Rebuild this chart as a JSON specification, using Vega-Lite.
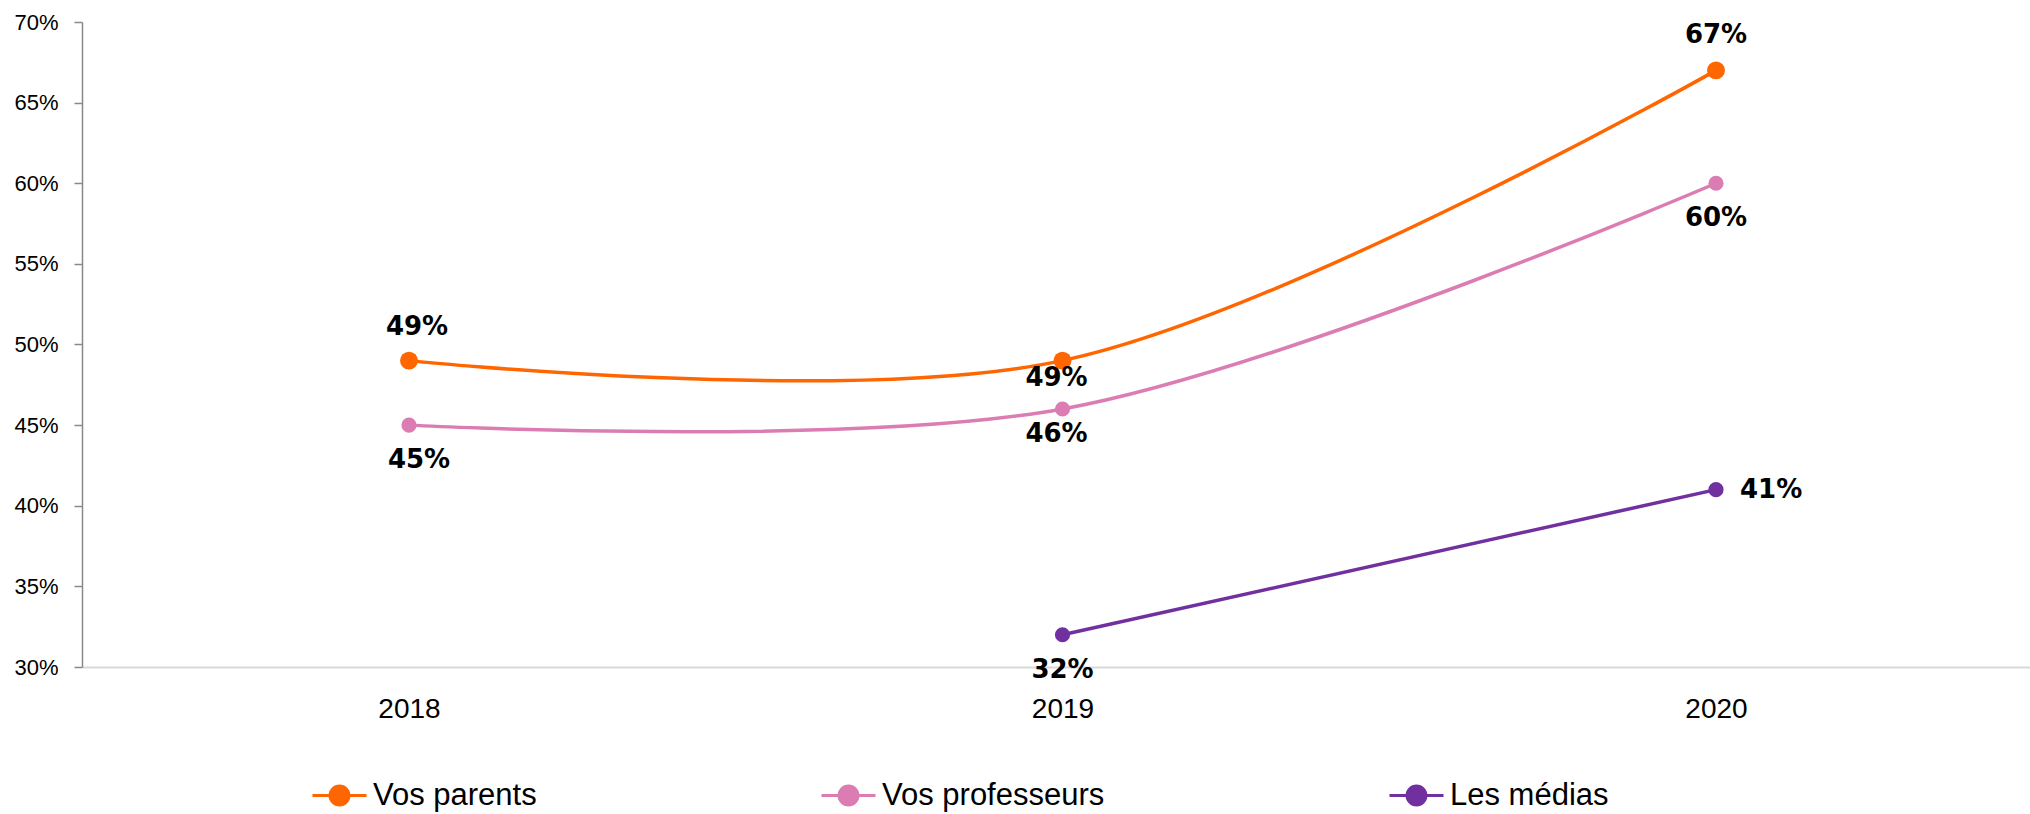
{
  "$schema": "https://vega.github.io/schema/vega-lite/v6.json",
  "width": 1948,
  "height": 645,
  "autosize": {"type": "none"},
  "padding": {"left": 82, "top": 22, "right": 0, "bottom": 147},
  "background": "white",
  "config": {
    "view": {"stroke": null},
    "font": "Liberation Sans"
  },
  "data": {
    "values": [
      {"serie": "Vos parents", "annee": "2018", "valeur": 0.49},
      {"serie": "Vos parents", "annee": "2019", "valeur": 0.49},
      {"serie": "Vos parents", "annee": "2020", "valeur": 0.67},
      {"serie": "Vos professeurs", "annee": "2018", "valeur": 0.45},
      {"serie": "Vos professeurs", "annee": "2019", "valeur": 0.46},
      {"serie": "Vos professeurs", "annee": "2020", "valeur": 0.60},
      {"serie": "Les médias", "annee": "2019", "valeur": 0.32},
      {"serie": "Les médias", "annee": "2020", "valeur": 0.41}
    ]
  },
  "encoding": {
    "x": {
      "field": "annee", "type": "ordinal",
      "scale": {"type": "point", "range": [0.25, 1960.75], "padding": 0.5},
      "axis": {
        "title": null, "labelAngle": 0, "ticks": false,
        "domainColor": "#d9d9d9", "domainWidth": 2,
        "labelFontSize": 28, "labelColor": "#000000", "labelPadding": 28,
        "labelFont": "Liberation Sans"
      }
    },
    "y": {
      "field": "valeur", "type": "quantitative",
      "scale": {"domain": [0.3, 0.7], "nice": false, "zero": false},
      "axis": {
        "title": null, "grid": false, "format": ".0%",
        "values": [0.3, 0.35, 0.4, 0.45, 0.5, 0.55, 0.6, 0.65, 0.7],
        "domainColor": "#888888", "domainWidth": 1.5,
        "tickColor": "#888888", "tickSize": 8, "tickWidth": 1.5,
        "labelFontSize": 22, "labelColor": "#000000", "labelPadding": 16,
        "labelFont": "Liberation Sans"
      }
    },
    "color": {
      "field": "serie", "type": "nominal",
      "scale": {
        "domain": ["Vos parents", "Vos professeurs", "Les médias"],
        "range": ["#FF6600", "#DB7DB3", "#7030A0"]
      },
      "legend": {
        "title": null,
        "orient": "none",
        "legendX": 229,
        "legendY": 745,
        "direction": "horizontal",
        "symbolType": "M-1,0L1,0M0.35,0A0.35,0.35 0 1,1 -0.35,0A0.35,0.35 0 1,1 0.35,0Z",
        "symbolSize": 2916,
        "symbolStrokeWidth": 3,
        "labelFontSize": 31,
        "labelColor": "#000000",
        "labelFont": "Liberation Sans",
        "labelOffset": 5,
        "columnPadding": 278,
        "padding": 0,
        "labelLimit": 400,
        "encode": {
          "symbols": {
            "update": {
              "fill": {"scale": "color", "field": "value"},
              "stroke": {"scale": "color", "field": "value"},
              "size": {"value": 2916},
              "strokeWidth": {"value": 3},
              "opacity": {"value": 1}
            }
          }
        }
      }
    }
  },
  "layer": [
    {
      "mark": {"type": "line", "interpolate": "catmull-rom", "strokeWidth": 3.5}
    },
    {
      "mark": {"type": "point", "filled": true, "opacity": 1},
      "encoding": {
        "size": {
          "condition": {"test": "datum.serie === 'Vos parents'", "value": 320},
          "value": 230
        }
      }
    },
    {
      "transform": [{"filter": "datum.serie === 'Vos parents' && datum.annee === '2018'"}],
      "mark": {"type": "text", "fontSize": 26, "fontWeight": "bold", "font": "DejaVu Sans", "baseline": "middle", "dy": -34, "dx": 8},
      "encoding": {"text": {"field": "valeur", "format": ".0%"}, "color": {"value": "#000000"}}
    },
    {
      "transform": [{"filter": "datum.serie === 'Vos parents' && datum.annee === '2020'"}],
      "mark": {"type": "text", "fontSize": 26, "fontWeight": "bold", "font": "DejaVu Sans", "baseline": "middle", "dy": -35},
      "encoding": {"text": {"field": "valeur", "format": ".0%"}, "color": {"value": "#000000"}}
    },
    {
      "transform": [{"filter": "datum.serie === 'Vos parents' && datum.annee === '2019'"}],
      "mark": {"type": "text", "fontSize": 26, "fontWeight": "bold", "font": "DejaVu Sans", "baseline": "middle", "dy": 17, "dx": -6},
      "encoding": {"text": {"field": "valeur", "format": ".0%"}, "color": {"value": "#000000"}}
    },
    {
      "transform": [{"filter": "datum.serie === 'Vos professeurs' && datum.annee === '2018'"}],
      "mark": {"type": "text", "fontSize": 26, "fontWeight": "bold", "font": "DejaVu Sans", "baseline": "middle", "dy": 35, "dx": 10},
      "encoding": {"text": {"field": "valeur", "format": ".0%"}, "color": {"value": "#000000"}}
    },
    {
      "transform": [{"filter": "datum.serie === 'Vos professeurs' && datum.annee === '2019'"}],
      "mark": {"type": "text", "fontSize": 26, "fontWeight": "bold", "font": "DejaVu Sans", "baseline": "middle", "dy": 25, "dx": -6},
      "encoding": {"text": {"field": "valeur", "format": ".0%"}, "color": {"value": "#000000"}}
    },
    {
      "transform": [{"filter": "(datum.serie === 'Vos professeurs' && datum.annee === '2020') || (datum.serie === 'Les médias' && datum.annee === '2019')"}],
      "mark": {"type": "text", "fontSize": 26, "fontWeight": "bold", "font": "DejaVu Sans", "baseline": "middle", "dy": 35},
      "encoding": {"text": {"field": "valeur", "format": ".0%"}, "color": {"value": "#000000"}}
    },
    {
      "transform": [{"filter": "datum.serie === 'Les médias' && datum.annee === '2020'"}],
      "mark": {"type": "text", "fontSize": 26, "fontWeight": "bold", "font": "DejaVu Sans", "baseline": "middle", "align": "left", "dx": 24},
      "encoding": {"text": {"field": "valeur", "format": ".0%"}, "color": {"value": "#000000"}}
    }
  ]
}
